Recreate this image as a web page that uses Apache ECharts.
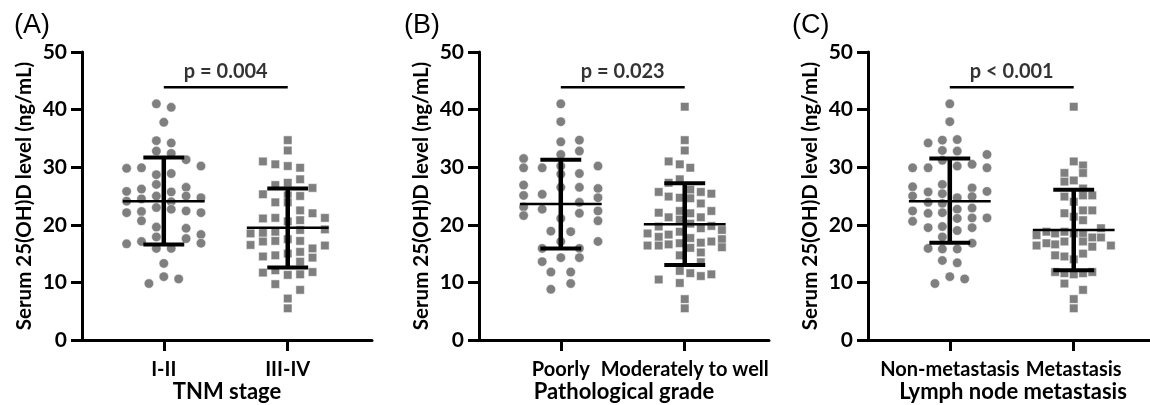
<!DOCTYPE html>
<html><head><meta charset="utf-8">
<script src="https://cdn.jsdelivr.net/npm/echarts@6/dist/echarts.min.js"></script>
<style>html,body{margin:0;padding:0;background:#fff}#c{width:1150px;height:405px}</style>
</head><body><div id="c"></div>
<script>
// ---------- data ----------
const yTicks = [0, 10, 20, 30, 40, 50];
const panelLabels = ['(A)', '(B)', '(C)'];
const axisTitles = ['TNM stage', 'Pathological grade', 'Lymph node metastasis'];
const yTitle = 'Serum 25(OH)D level (ng/mL)';
const tnmCategories = ['I-II', 'III-IV'];
const gradeCategories = ['Poorly', 'Moderately to well'];
const lnmCategories = ['Non-metastasis', 'Metastasis'];
const pValues = ['p = 0.004', 'p = 0.023', 'p < 0.001'];
const bracketLevel = [43.9, 43.9, 43.9];

// each point: [horizontal jitter (category units), value]
const tnmEarly = [[-0.06,41.0],[0.06,40.4],[0,37.8],[-0.06,34.6],[0.06,34.2],[-0.06,32.8],[0.06,32.4],[0.18,31.3],[-0.30,29.8],[-0.18,29.9],[0.30,30.2],[-0.06,28.7],[0.06,28.9],[-0.06,27.0],[-0.18,26.2],[-0.30,25.8],[0.18,26.5],[0.06,25.7],[-0.18,24.5],[-0.06,25.0],[0.18,25.0],[0.30,24.7],[-0.30,24.1],[0.06,24.0],[-0.30,22.1],[-0.18,22.3],[-0.06,23.0],[0.06,22.7],[0.18,22.4],[0.30,22.1],[-0.18,20.7],[-0.06,19.6],[0.18,19.4],[-0.06,17.9],[0.18,17.6],[0.30,18.3],[-0.30,16.7],[-0.18,17.1],[0.30,16.8],[-0.06,15.9],[0.06,15.9],[0,13.3],[0,11.0],[0.12,10.6],[-0.12,9.8]];
const tnmLate = [[0,34.7],[0,32.9],[-0.20,31.0],[-0.10,30.5],[0,30.2],[0.10,29.9],[0.10,27.9],[0,27.3],[-0.10,26.9],[0.20,26.4],[-0.20,25.3],[0,25.1],[0.10,25.0],[-0.10,23.9],[0,23.9],[0.10,22.5],[0.20,22.0],[-0.20,21.1],[-0.10,21.2],[0.10,20.8],[0.30,21.2],[0,20.6],[0.30,19.2],[-0.30,18.5],[-0.20,18.6],[-0.10,18.8],[0.10,19.1],[-0.30,16.5],[-0.20,17.1],[-0.10,17.2],[0.10,17.2],[0,17.5],[0.10,15.3],[0.20,15.9],[0.30,16.4],[-0.20,14.5],[-0.10,14.7],[0,15.0],[0.10,13.6],[0.20,14.3],[-0.20,11.7],[-0.10,12.1],[0,11.3],[0.10,11.4],[0.20,11.8],[-0.10,9.7],[0.10,8.7],[0,7.2],[0,5.5]];
const gradePoor = [[0,41.0],[0,37.9],[0,34.4],[0.15,34.7],[0.15,32.8],[0,32.2],[-0.30,31.5],[-0.30,29.9],[-0.15,29.9],[0,30.2],[0.30,30.2],[0,28.8],[0.15,28.9],[-0.30,26.9],[0,26.5],[0.15,26.5],[0.30,26.3],[-0.30,25.1],[-0.15,25.3],[0.30,24.7],[0.15,23.9],[-0.30,23.1],[-0.15,22.7],[0.30,22.4],[0.15,22.0],[-0.30,21.6],[0.30,20.7],[0,21.1],[-0.08,18.9],[0.08,18.8],[0,17.1],[0.30,17.1],[-0.15,15.9],[0.15,15.9],[0,14.3],[0.15,14.3],[-0.15,13.6],[-0.08,11.8],[0.08,11.8],[0.08,9.8],[-0.08,8.8]];
const gradeWell = [[0,40.5],[0,34.7],[0,32.9],[-0.13,31.0],[-0.04,30.5],[0.045,29.9],[-0.04,27.9],[-0.13,27.3],[-0.21,25.7],[0.045,26.1],[0.13,25.7],[0.215,25.4],[-0.13,24.9],[-0.04,24.7],[0.045,24.6],[0.13,23.7],[-0.21,22.1],[-0.04,22.4],[0.045,22.0],[0.215,22.4],[-0.13,21.3],[-0.04,20.9],[0.13,21.3],[0.045,20.2],[-0.21,19.7],[0.13,19.4],[0.215,19.8],[0.30,19.1],[-0.30,18.5],[-0.21,17.9],[-0.13,18.3],[-0.04,18.8],[0.045,17.7],[0.30,17.5],[-0.30,16.4],[-0.21,16.4],[-0.13,16.6],[-0.04,16.8],[0.045,16.0],[0.13,16.9],[0.215,17.1],[0.30,16.1],[0.13,15.2],[-0.04,14.7],[0.13,13.5],[-0.04,12.0],[0.045,11.6],[0.13,11.1],[0.215,11.4],[-0.21,10.5],[-0.04,9.9],[0,7.1],[0,5.5]];
const lnmNon = [[0,41.0],[0,37.9],[-0.175,34.2],[-0.06,34.7],[0.06,34.8],[-0.06,32.9],[0.06,32.8],[0.30,32.2],[-0.06,31.2],[-0.30,29.9],[-0.175,29.9],[0.06,30.2],[0.18,30.5],[0.30,29.9],[-0.30,26.6],[-0.06,27.0],[0.18,26.4],[-0.30,25.0],[-0.175,25.7],[-0.06,25.4],[0.30,25.8],[0.06,24.7],[0.18,24.9],[-0.175,23.9],[-0.06,23.7],[-0.30,22.4],[-0.175,22.0],[-0.06,22.1],[0.06,22.7],[0.18,22.9],[0.06,21.1],[-0.30,20.6],[0.18,21.2],[0.30,21.2],[-0.175,19.5],[-0.06,19.7],[0.18,19.5],[0.06,19.0],[-0.06,17.9],[0.18,16.8],[-0.175,15.9],[-0.06,15.8],[0.06,15.8],[-0.06,13.8],[0.06,13.4],[0,11.0],[0.12,10.6],[-0.12,9.8]];
const lnmMeta = [[0,40.5],[0,31.0],[0.075,30.3],[-0.075,29.0],[0.075,29.0],[-0.075,27.5],[0,27.7],[0.075,26.3],[-0.075,24.9],[0.075,25.1],[0.15,25.1],[0,24.0],[-0.075,22.0],[0.075,22.5],[0.15,22.5],[0,21.4],[0.075,20.8],[0.22,19.4],[-0.22,18.8],[-0.15,18.5],[-0.075,18.8],[-0.30,18.2],[0,18.5],[0.075,18.3],[0.15,17.8],[0.22,17.8],[-0.30,16.4],[-0.22,16.8],[-0.15,16.6],[-0.075,17.1],[0.075,17.1],[0.15,16.2],[0.30,16.4],[-0.15,14.7],[-0.075,14.5],[0.075,15.0],[0,14.0],[-0.15,11.8],[-0.075,11.6],[0,11.4],[0.075,11.6],[0.15,11.8],[-0.075,9.8],[0.075,8.7],[0,7.1],[0,5.5]];

// mean and mean +/- SD per group
const tnmMean = [24.1, 19.5], tnmLow = [16.6, 12.6], tnmHigh = [31.7, 26.3];
const gradeMean = [23.6, 20.1], gradeLow = [15.9, 13.0], gradeHigh = [31.3, 27.2];
const lnmMean = [24.1, 19.1], lnmLow = [16.9, 12.1], lnmHigh = [31.5, 26.1];

// ---------- chart ----------
const panels = [
  {cats: tnmCategories, groups: [tnmEarly, tnmLate], mean: tnmMean, low: tnmLow, high: tnmHigh},
  {cats: gradeCategories, groups: [gradePoor, gradeWell], mean: gradeMean, low: gradeLow, high: gradeHigh},
  {cats: lnmCategories, groups: [lnmNon, lnmMeta], mean: lnmMean, low: lnmLow, high: lnmHigh}
];
const gridLefts = [82, 479, 868];
const FONT = 'Lato';
const GREY = '#7f7f7f';

const grid = [], xAxis = [], yAxis = [], series = [];
panels.forEach((p, i) => {
  grid.push({left: gridLefts[i], top: 52, width: 290, height: 288, containLabel: false, outerBoundsMode: 'none'});
  xAxis.push({
    type: 'value', gridIndex: i, min: 0.34, max: 2.68,
    axisLine: {onZero: false, lineStyle: {color: '#000', width: 3}},
    axisTick: {show: true, customValues: [1, 2], length: 11, lineStyle: {color: '#000', width: 3}},
    axisLabel: {customValues: [1, 2], formatter: v => p.cats[Math.round(v) - 1] || '',
      hideOverlap: false, showMinLabel: true, showMaxLabel: true,
      color: '#000', fontFamily: FONT, fontWeight: 'bold', fontSize: 20, margin: 20},
    splitLine: {show: false},
    name: axisTitles[i], nameLocation: 'middle', nameGap: 41, nameMoveOverlap: false,
    nameTextStyle: {color: '#000', fontFamily: FONT, fontWeight: 'bold', fontSize: 22}
  });
  yAxis.push({
    type: 'value', gridIndex: i, min: yTicks[0], max: yTicks[yTicks.length - 1], interval: 10,
    axisLine: {show: true, onZero: false, lineStyle: {color: '#000', width: 3}},
    axisTick: {show: true, length: 11, lineStyle: {color: '#000', width: 3}},
    axisLabel: {color: '#000', fontFamily: FONT, fontWeight: 'bold', fontSize: 21, margin: 15},
    splitLine: {show: false},
    name: yTitle, nameLocation: 'middle', nameRotate: 90, nameGap: 47, nameMoveOverlap: false,
    nameTextStyle: {color: '#000', fontFamily: FONT, fontWeight: 'bold', fontSize: 20.5}
  });
  p.groups.forEach((g, k) => {
    series.push({
      type: 'scatter', xAxisIndex: i, yAxisIndex: i,
      symbol: k === 0 ? 'circle' : 'rect', symbolSize: k === 0 ? 9.5 : 8.5,
      itemStyle: {color: GREY, opacity: 1, borderColor: '#fff', borderWidth: 0.5},
      data: g.map(d => [k + 1 + d[0], d[1]]),
      silent: true, z: 2
    });
  });
  series.push({
    type: 'custom', xAxisIndex: i, yAxisIndex: i, z: 5, silent: true,
    data: [0, 1].map(k => [k + 1, p.mean[k], p.low[k], p.high[k]]),
    renderItem: (params, api) => {
      const x = api.value(0), m = api.value(1), lo = api.value(2), hi = api.value(3);
      const c = (a, b) => api.coord([a, b]);
      const seg = (a, b, w) => ({type: 'line', shape: {x1: a[0], y1: a[1], x2: b[0], y2: b[1]},
        style: {stroke: '#000', lineWidth: w}});
      return {type: 'group', children: [
        seg(c(x, hi), c(x, lo), 4.5),
        seg(c(x - 0.33, m), c(x + 0.33, m), 2.5),
        seg(c(x - 0.165, hi), c(x + 0.165, hi), 4),
        seg(c(x - 0.165, lo), c(x + 0.165, lo), 4)
      ]};
    }
  });
  series.push({
    type: 'line', xAxisIndex: i, yAxisIndex: i, symbol: 'none', silent: true,
    lineStyle: {color: '#000', width: 2.5},
    data: [[1, bracketLevel[i]], [2, bracketLevel[i]]]
  });
  series.push({
    type: 'scatter', xAxisIndex: i, yAxisIndex: i, symbolSize: 1, silent: true,
    itemStyle: {color: 'rgba(0,0,0,0)'},
    data: [[1.5, bracketLevel[i] + 2.75]],
    label: {show: true, position: 'inside', formatter: pValues[i], color: '#000',
      fontFamily: FONT, fontWeight: 'bold', fontSize: 20}
  });
});

const graphic = panelLabels.map((t, i) => ({
  type: 'text', left: [14, 404, 792][i], top: 12,
  style: {text: t, fill: '#000', font: '27px "Liberation Sans"'}
}));

const chart = echarts.init(document.getElementById('c'), null, {renderer: 'canvas'});
chart.setOption({animation: false, backgroundColor: '#fff', grid, xAxis, yAxis, series, graphic});
</script></body></html>
